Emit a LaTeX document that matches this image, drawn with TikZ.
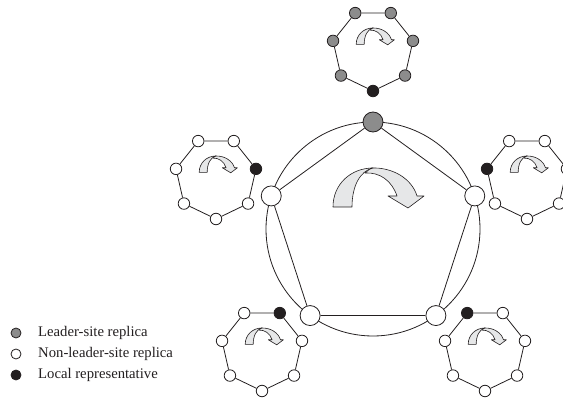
\documentclass[tikz,border=0pt]{standalone}
\usepackage{fontspec}
\setmainfont{Liberation Serif}
\definecolor{ink}{HTML}{231F20}
\definecolor{midgray}{HTML}{8C8C8C}
\definecolor{arrowfill}{HTML}{E6E7E8}
\tikzset{
  edge/.style={draw=ink, line width=0.8pt},
  hnode/.style={circle, draw=ink, line width=0.8pt, minimum size=11.5pt, inner sep=0pt},
  pnode/.style={circle, draw=ink, line width=0.8pt, minimum size=20pt, inner sep=0pt},
  lnode/.style={circle, draw=ink, line width=0.8pt, minimum size=10pt, inner sep=0pt},
  ltext/.style={anchor=west, inner sep=0pt, text=ink, font=\fontsize{14.7}{17}\selectfont},
  carrow/.style={fill=arrowfill, draw=ink, line width=0.6pt, line join=round},
}
\newcommand{\heptagon}[5]{%
  \foreach \i in {0,...,6}{%
    \pgfmathsetmacro\ang{270+360/7*\i}%
    \ifnum\i=#5\relax\def\nfc{ink}\else\def\nfc{#4}\fi
    \node[hnode, fill=\nfc] (#1-\i) at ({#2+41*cos(\ang)},{#3-41*sin(\ang)}) {};
  }%
  \foreach \i in {0,...,6}{%
    \pgfmathtruncatemacro\j{mod(\i+1,7)}%
    \draw[edge] (#1-\i) -- (#1-\j);
  }%
}
\newcommand{\curlyarrow}[3]{%
  \begin{scope}[shift={(#1,#2)}, scale=#3]
    % right (descending) part with head
    \path[carrow] (-2,0) .. controls (20,-1) and (39,11) .. (44,28)
      -- (51,28) -- (35,40) -- (15,28) -- (24,28)
      .. controls (19,13) and (7,4) .. (-8,5) -- cycle;
    % left (rising) part
    \path[carrow] (-40,39) .. controls (-40,16) and (-22,0) .. (0,0)
      .. controls (-13,3) and (-21,18) .. (-21,39) -- cycle;
  \end{scope}%
}
\begin{document}
\begin{tikzpicture}[x=1pt, y=-1pt]
  \useasboundingbox (0,0) rectangle (563,401);
  % central ring
  \coordinate (c) at (373,229);
  \draw[edge] (c) circle (107);
  \foreach \k/\a/\f in {0/90/midgray, 1/162/white, 2/234/white, 3/306/white, 4/18/white}{
    \node[pnode, fill=\f] (p\k) at ({373+107*cos(\a)},{229-107*sin(\a)}) {};
  }
  \draw[edge] (p0) -- (p1) -- (p2) -- (p3) -- (p4) -- (p0);
  \curlyarrow{373}{168}{1}
  % local groups
  \heptagon{ht}{373}{50}{midgray}{0}
  \heptagon{hl}{216}{178}{white}{2}
  \heptagon{hr}{527}{178}{white}{5}
  \heptagon{hll}{262}{350}{white}{3}
  \heptagon{hlr}{485}{350}{white}{4}
  \curlyarrow{373}{28}{0.42}
  \curlyarrow{216}{156}{0.42}
  \curlyarrow{527}{156}{0.42}
  \curlyarrow{262}{328}{0.42}
  \curlyarrow{485}{328}{0.42}
  % legend
  \node[lnode, fill=midgray] (l1) at (16,333) {};
  \node[lnode, fill=white] (l2) at (16,354) {};
  \node[lnode, fill=ink] (l3) at (16,375) {};
  \node[ltext] (t1) at (38,333) {Leader-site replica};
  \node[ltext] (t2) at (38,354) {Non-leader-site replica};
  \node[ltext] (t3) at (38,375) {Local representative};
\end{tikzpicture}
\end{document}
